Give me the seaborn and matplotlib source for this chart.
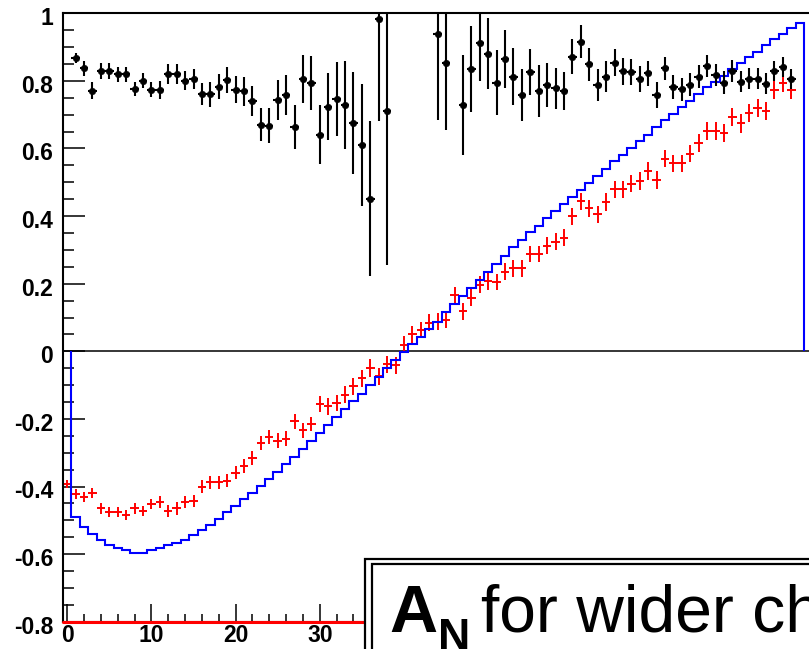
import numpy as np
import matplotlib
matplotlib.use("Agg")
import matplotlib.pyplot as plt
import matplotlib.transforms as mtransforms
from matplotlib.patches import Rectangle
from matplotlib.ticker import MultipleLocator
import seaborn as sns

sns.set_style("white", {"text.color": "black", "xtick.color": "black",
                        "ytick.color": "black", "axes.labelcolor": "black"})
plt.rcParams["font.family"] = ["Liberation Sans", "DejaVu Sans"]

# red: measured asymmetry points
red_x = list(range(0, 87))
red_y = [-0.393, -0.423, -0.432, -0.418, -0.465, -0.476, -0.476, -0.484, -0.465, -0.472,
         -0.452, -0.445, -0.472, -0.465, -0.447, -0.442, -0.401, -0.388, -0.388, -0.383,
         -0.359, -0.339, -0.315, -0.271, -0.254, -0.264, -0.258, -0.207, -0.234, -0.215,
         -0.156, -0.163, -0.153, -0.128, -0.104, -0.080, -0.050, -0.074, -0.039, -0.041,
         0.019, 0.050, 0.063, 0.084, 0.088, 0.094, 0.166, 0.119, 0.158, 0.197,
         0.207, 0.205, 0.236, 0.246, 0.246, 0.288, 0.288, 0.313, 0.324, 0.336,
         0.399, 0.444, 0.423, 0.406, 0.442, 0.479, 0.479, 0.496, 0.504, 0.533,
         0.506, 0.570, 0.556, 0.556, 0.585, 0.617, 0.651, 0.651, 0.646, 0.693,
         0.674, 0.705, 0.720, 0.710, 0.774, 0.795, 0.774]
red_err = [0.012, 0.015, 0.015, 0.015, 0.015, 0.015, 0.015, 0.015, 0.015, 0.015,
           0.016, 0.018, 0.018, 0.018, 0.018, 0.018, 0.019, 0.019, 0.019, 0.019,
           0.020, 0.021, 0.021, 0.021, 0.021, 0.021, 0.022, 0.022, 0.022, 0.022,
           0.023, 0.024, 0.024, 0.024, 0.025, 0.025, 0.026, 0.026, 0.026, 0.025,
           0.025, 0.025, 0.025, 0.025, 0.025, 0.025, 0.025, 0.025, 0.025, 0.025,
           0.025, 0.025, 0.025, 0.025, 0.025, 0.025, 0.025, 0.025, 0.025, 0.025,
           0.025, 0.025, 0.025, 0.025, 0.026, 0.026, 0.026, 0.026, 0.026, 0.026,
           0.026, 0.026, 0.026, 0.026, 0.026, 0.026, 0.026, 0.026, 0.026, 0.027,
           0.027, 0.027, 0.027, 0.027, 0.027, 0.027, 0.027]

# black: ratio points
black_x = [1, 2, 3, 4, 5, 6, 7, 8, 9, 10, 11, 12, 13, 14, 15, 16, 17, 18, 19, 20,
           21, 22, 23, 24, 25, 26, 27, 28, 29, 30, 31, 32, 33, 34, 35, 36, 37, 38,
           44, 45, 47, 48, 49, 50, 51, 52, 53, 54, 55, 56, 57, 58, 59, 60, 61, 62,
           63, 64, 65, 66, 67, 68, 69, 70, 71, 72, 73, 74, 75, 76, 77, 78, 79, 80,
           81, 82, 83, 84, 85, 86]
black_y = [0.867, 0.837, 0.771, 0.829, 0.829, 0.820, 0.820, 0.776, 0.801, 0.774,
           0.774, 0.820, 0.820, 0.801, 0.805, 0.761, 0.761, 0.783, 0.803, 0.774,
           0.769, 0.741, 0.671, 0.668, 0.744, 0.759, 0.664, 0.806, 0.795, 0.641,
           0.724, 0.746, 0.729, 0.676, 0.611, 0.452, 0.982, 0.712,
           0.940, 0.854, 0.729, 0.835, 0.911, 0.881, 0.795, 0.865, 0.813, 0.759,
           0.826, 0.771, 0.788, 0.778, 0.771, 0.872, 0.916, 0.849, 0.788, 0.813,
           0.854, 0.829, 0.826, 0.805, 0.822, 0.759, 0.837, 0.781, 0.775, 0.788,
           0.813, 0.845, 0.818, 0.795, 0.829, 0.798, 0.806, 0.806, 0.791, 0.829,
           0.842, 0.806]
black_err = [0.015, 0.022, 0.025, 0.023, 0.023, 0.022, 0.022, 0.021, 0.022, 0.022,
             0.027, 0.029, 0.029, 0.027, 0.030, 0.033, 0.037, 0.037, 0.038, 0.040,
             0.042, 0.044, 0.049, 0.052, 0.059, 0.059, 0.066, 0.070, 0.080, 0.087,
             0.100, 0.110, 0.130, 0.150, 0.180, 0.230, 0.300, 0.456,
             0.255, 0.200, 0.147, 0.128, 0.112, 0.104, 0.096, 0.087, 0.085, 0.077,
             0.069, 0.077, 0.066, 0.061, 0.056, 0.051, 0.049, 0.049, 0.047, 0.047,
             0.040, 0.040, 0.039, 0.039, 0.038, 0.038, 0.035, 0.035, 0.035, 0.034,
             0.034, 0.033, 0.033, 0.033, 0.032, 0.032, 0.031, 0.031, 0.031, 0.030,
             0.030, 0.030]

# blue: histogram bins (centres) and contents
blue_bins = list(range(1, 88))
blue_y = [-0.489, -0.519, -0.542, -0.558, -0.573, -0.581, -0.589, -0.596, -0.596, -0.589,
          -0.581, -0.574, -0.566, -0.557, -0.543, -0.530, -0.513, -0.496, -0.476, -0.459,
          -0.437, -0.420, -0.398, -0.378, -0.357, -0.334, -0.313, -0.288, -0.264, -0.241,
          -0.217, -0.194, -0.171, -0.147, -0.125, -0.100, -0.075, -0.050, -0.026, -0.001,
          0.021, 0.043, 0.066, 0.087, 0.115, 0.141, 0.163, 0.187, 0.212, 0.236,
          0.259, 0.283, 0.308, 0.330, 0.352, 0.372, 0.393, 0.414, 0.435, 0.457,
          0.476, 0.499, 0.519, 0.540, 0.563, 0.582, 0.602, 0.621, 0.641, 0.663,
          0.683, 0.703, 0.723, 0.742, 0.761, 0.781, 0.798, 0.815, 0.834, 0.854,
          0.870, 0.886, 0.906, 0.924, 0.940, 0.957, 0.970]

ytick_vals = [-0.8, -0.6, -0.4, -0.2, 0, 0.2, 0.4, 0.6, 0.8, 1.0]
ytick_labels = ["-0.8", "-0.6", "-0.4", "-0.2", "0", "0.2", "0.4", "0.6", "0.8", "1"]
xtick_vals = [0, 10, 20, 30, 40, 50, 60, 70, 80, 90, 100]
# labels from 40 on sit under the legend box
xtick_labels = ["0", "10", "20", "30", "", "", "", "", "", "", ""]

W, H = 809, 649
fig = plt.figure(figsize=(W / 100, H / 100), dpi=100)


def fx(px):
    return px / W


def fy(py):
    return 1 - py / H


ax = fig.add_axes([fx(63), fy(621.7), (909.2 - 63) / W, (621.7 - 13.3) / H])
ax.set_xlim(-0.5, 100)
ax.set_ylim(-0.8, 1.0)

ax.axhline(0, color="black", lw=1.1, zorder=1)

edges = np.append(np.array(blue_bins) - 0.5, blue_bins[-1] + 0.5)
ax.stairs(blue_y, edges, baseline=0, color="blue", lw=1.5, zorder=3)

ax.errorbar(red_x, red_y, xerr=0.5, yerr=red_err, fmt="none", ecolor="red",
            elinewidth=1.4, capsize=0, zorder=2)
ax.errorbar(black_x, black_y, xerr=0.5, yerr=black_err, fmt="none", ecolor="black",
            elinewidth=1.5, capsize=0, zorder=4)
sns.scatterplot(x=black_x, y=black_y, color="black", edgecolor="black", s=22,
                marker="o", ax=ax, zorder=5)

ax.axhline(-0.8, color="red", lw=2.2, zorder=6, clip_on=False)

for side in ["left", "top", "bottom"]:
    ax.spines[side].set_linewidth(1.5)
    ax.spines[side].set_color("black")

ax.set_xticks(xtick_vals)
ax.set_xticklabels(xtick_labels)
ax.xaxis.set_minor_locator(MultipleLocator(2))
ax.set_yticks(ytick_vals)
ax.set_yticklabels(ytick_labels)
ax.yaxis.set_minor_locator(MultipleLocator(0.05))
ax.tick_params(which="both", direction="in", bottom=True, left=True, top=False,
               right=False, width=1.1, color="black", labelcolor="black")
ax.tick_params(axis="y", which="major", length=16, pad=7, labelsize=16.5)
ax.tick_params(axis="y", which="minor", length=7.7)
ax.tick_params(axis="x", which="major", length=12.7, pad=2, labelsize=16.5)
ax.tick_params(axis="x", which="minor", length=5.5)
shift = mtransforms.ScaledTranslation(0, -0.03, fig.dpi_scale_trans)
for lab in ax.get_yticklabels():
    lab.set_fontweight("bold")
    lab.set_transform(lab.get_transform() + shift)
for lab in ax.get_xticklabels():
    lab.set_fontweight("bold")

# legend box (double border), cut by the canvas edge
outer = Rectangle((fx(365), -0.5), 2, fy(558.5) + 0.5, transform=fig.transFigure,
                  facecolor="white", edgecolor="black", lw=1.6, zorder=10)
inner = Rectangle((fx(371.5), -0.5), 2, fy(563.5) + 0.5, transform=fig.transFigure,
                  facecolor="none", edgecolor="black", lw=1.6, zorder=11)
fig.add_artist(outer)
fig.add_artist(inner)

fig.text(fx(389), fy(631.7), "A", fontsize=48, fontweight="bold", color="black",
         ha="left", va="baseline", zorder=12)
fig.text(fx(438), fy(650), "N", fontsize=32, fontweight="bold", color="black",
         ha="left", va="baseline", zorder=12)
fig.text(fx(481), fy(631.7), "for wider ch", fontsize=47.5, color="black",
         ha="left", va="baseline", zorder=12)

fig.savefig("out.png", dpi=100)
